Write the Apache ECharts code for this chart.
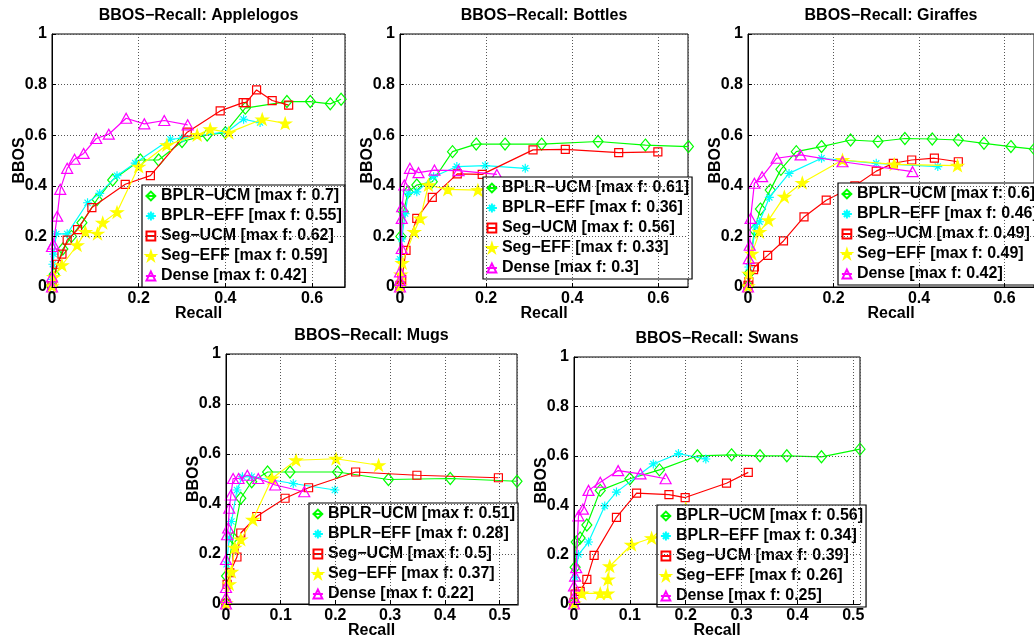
<!DOCTYPE html>
<html>
<head>
<meta charset="utf-8">
<script src="https://cdn.jsdelivr.net/npm/echarts@6.0.0/dist/echarts.min.js"></script>
<style>
  html, body { margin: 0; padding: 0; background: #fff; }
  #chart { width: 1034px; height: 640px; }
</style>
</head>
<body>
<div id="chart"></div>
<script>
// method names, in plotting order
const methods = ['BPLR−UCM', 'BPLR−EFF', 'Seg−UCM', 'Seg−EFF', 'Dense'];
const classes = ['Applelogos', 'Bottles', 'Giraffes', 'Mugs', 'Swans'];

// max f per class, same order as methods
const appleMaxF = [0.7, 0.55, 0.62, 0.59, 0.42];
const bottleMaxF = [0.61, 0.36, 0.56, 0.33, 0.3];
const giraffeMaxF = [0.6, 0.46, 0.49, 0.49, 0.42];
const mugMaxF = [0.51, 0.28, 0.5, 0.37, 0.22];
const swanMaxF = [0.56, 0.34, 0.39, 0.26, 0.25];

// [recall, bbos] points
const appleBplrUcm = [[0,0],[0.005,0.05],[0.025,0.15],[0.045,0.2],[0.069,0.254],[0.104,0.346],[0.14,0.423],[0.204,0.502],[0.246,0.502],[0.3,0.575],[0.358,0.601],[0.4,0.61],[0.446,0.707],[0.542,0.733],[0.596,0.733],[0.642,0.724],[0.667,0.742]];
const appleBplrEff = [[0,0.03],[0.002,0.09],[0.004,0.13],[0.01,0.21],[0.035,0.21],[0.082,0.333],[0.11,0.37],[0.15,0.44],[0.192,0.49],[0.273,0.584],[0.3,0.588],[0.404,0.614],[0.442,0.663],[0.48,0.65]];
const appleSegUcm = [[0,0.006],[0.012,0.09],[0.023,0.13],[0.035,0.185],[0.059,0.227],[0.092,0.314],[0.169,0.406],[0.227,0.44],[0.312,0.612],[0.388,0.696],[0.441,0.729],[0.448,0.729],[0.472,0.779],[0.508,0.737],[0.546,0.719]];
const appleSegEff = [[0,0.003],[0.004,0.04],[0.023,0.086],[0.058,0.165],[0.077,0.218],[0.105,0.211],[0.117,0.254],[0.15,0.296],[0.2,0.476],[0.265,0.561],[0.335,0.601],[0.365,0.624],[0.408,0.61],[0.485,0.663],[0.538,0.647]];
const appleDense = [[0,0],[0,0.04],[0,0.16],[0.003,0.17],[0.012,0.28],[0.019,0.386],[0.035,0.469],[0.052,0.505],[0.073,0.528],[0.102,0.587],[0.131,0.604],[0.171,0.667],[0.213,0.645],[0.259,0.658],[0.313,0.641]];

const bottleBplrUcm = [[0,0.003],[0.002,0.2],[0.008,0.297],[0.019,0.376],[0.039,0.403],[0.075,0.416],[0.122,0.535],[0.177,0.565],[0.244,0.565],[0.329,0.565],[0.46,0.575],[0.57,0.561],[0.67,0.555]];
const bottleBplrEff = [[0,0.11],[0.004,0.19],[0.012,0.29],[0.019,0.37],[0.039,0.376],[0.078,0.436],[0.132,0.476],[0.198,0.48],[0.291,0.469]];
const bottleSegUcm = [[0,0.007],[0.004,0.03],[0.014,0.145],[0.039,0.271],[0.075,0.354],[0.133,0.447],[0.191,0.445],[0.309,0.542],[0.384,0.544],[0.508,0.531],[0.599,0.534]];
const bottleSegEff = [[0,0.003],[0.002,0.05],[0.005,0.095],[0.033,0.218],[0.047,0.271],[0.066,0.403],[0.111,0.386],[0.181,0.383],[0.283,0.403]];
const bottleDense = [[0,0],[0,0.026],[0,0.06],[0.004,0.152],[0.004,0.271],[0.005,0.317],[0.01,0.403],[0.023,0.469],[0.043,0.452],[0.08,0.462],[0.136,0.46],[0.225,0.445]];

const giraffeBplrUcm = [[0,0.003],[0.002,0.053],[0.015,0.225],[0.029,0.308],[0.052,0.383],[0.077,0.465],[0.113,0.535],[0.172,0.555],[0.24,0.581],[0.304,0.575],[0.367,0.587],[0.431,0.585],[0.492,0.581],[0.552,0.568],[0.615,0.555],[0.67,0.545]];
const giraffeBplrEff = [[0.002,0.079],[0.018,0.238],[0.027,0.258],[0.05,0.354],[0.096,0.449],[0.172,0.509],[0.3,0.489],[0.444,0.476]];
const giraffeSegUcm = [[0,0.007],[0.002,0.02],[0.013,0.069],[0.015,0.079],[0.046,0.125],[0.083,0.182],[0.131,0.277],[0.183,0.343],[0.25,0.4],[0.3,0.458],[0.34,0.489],[0.383,0.502],[0.436,0.509],[0.492,0.495]];
const giraffeSegEff = [[0,0.003],[0.002,0.053],[0.009,0.132],[0.027,0.218],[0.048,0.264],[0.085,0.357],[0.127,0.412],[0.221,0.502],[0.342,0.485],[0.49,0.48]];
const giraffeDense = [[0,0],[0.002,0.112],[0.004,0.165],[0.006,0.271],[0.015,0.41],[0.033,0.436],[0.067,0.509],[0.123,0.522],[0.221,0.495],[0.385,0.456]];

const mugBplrUcm = [[0,0.003],[0.001,0.112],[0.013,0.264],[0.027,0.423],[0.047,0.489],[0.076,0.528],[0.117,0.528],[0.204,0.528],[0.297,0.498],[0.41,0.502],[0.532,0.491]];
const mugBplrEff = [[0.001,0.159],[0.006,0.264],[0.01,0.33],[0.02,0.456],[0.03,0.509],[0.047,0.509],[0.123,0.482],[0.199,0.456]];
const mugSegUcm = [[0,0.003],[0.002,0.079],[0.007,0.125],[0.02,0.188],[0.027,0.284],[0.056,0.35],[0.108,0.423],[0.151,0.465],[0.237,0.528],[0.349,0.515],[0.498,0.505]];
const mugSegEff = [[0,0.003],[0.006,0.079],[0.01,0.129],[0.016,0.225],[0.027,0.258],[0.049,0.337],[0.084,0.502],[0.128,0.575],[0.201,0.581],[0.279,0.555]];
const mugDense = [[0,0],[0,0.026],[0,0.066],[0,0.178],[0.002,0.277],[0.004,0.304],[0.006,0.383],[0.009,0.436],[0.013,0.502],[0.023,0.502],[0.039,0.515],[0.059,0.502],[0.09,0.476],[0.143,0.449]];

const swanBplrUcm = [[0,0.003],[0.002,0.149],[0.004,0.251],[0.011,0.267],[0.023,0.32],[0.047,0.46],[0.1,0.507],[0.153,0.543],[0.221,0.6],[0.282,0.604],[0.333,0.6],[0.381,0.6],[0.443,0.596],[0.512,0.627]];
const swanBplrEff = [[0.002,0.107],[0.008,0.2],[0.026,0.251],[0.055,0.397],[0.076,0.453],[0.142,0.567],[0.187,0.609],[0.236,0.587]];
const swanSegUcm = [[0,0.007],[0.002,0.04],[0.011,0.051],[0.023,0.1],[0.036,0.197],[0.076,0.351],[0.112,0.449],[0.17,0.443],[0.199,0.431],[0.273,0.489],[0.312,0.533]];
const swanSegEff = [[0,0.003],[0.014,0.043],[0.047,0.043],[0.06,0.043],[0.061,0.1],[0.064,0.153],[0.103,0.24],[0.139,0.267],[0.2,0.387]];
const swanDense = [[0,0],[0,0.027],[0,0.073],[0.002,0.113],[0.004,0.147],[0.008,0.357],[0.016,0.384],[0.026,0.46],[0.047,0.493],[0.079,0.54],[0.119,0.527],[0.164,0.507]];

const classData = [
  [appleBplrUcm, appleBplrEff, appleSegUcm, appleSegEff, appleDense],
  [bottleBplrUcm, bottleBplrEff, bottleSegUcm, bottleSegEff, bottleDense],
  [giraffeBplrUcm, giraffeBplrEff, giraffeSegUcm, giraffeSegEff, giraffeDense],
  [mugBplrUcm, mugBplrEff, mugSegUcm, mugSegEff, mugDense],
  [swanBplrUcm, swanBplrEff, swanSegUcm, swanSegEff, swanDense]
];
const classMaxF = [appleMaxF, bottleMaxF, giraffeMaxF, mugMaxF, swanMaxF];

// ---- layout / styles ----
const FONT = '"Liberation Sans", Arial, Helvetica, sans-serif';
const panels = [
  { left: 52,  top: 34,  width: 293, height: 253, xmax: 0.676, step: 0.2, lg: [142, 185] },
  { left: 400, top: 34,  width: 288, height: 253, xmax: 0.669, step: 0.2, lg: [483, 177] },
  { left: 748, top: 34,  width: 290, height: 253, xmax: 0.669, step: 0.2, lg: [838, 183] },
  { left: 226, top: 354, width: 291, height: 253, xmax: 0.532, step: 0.1, lg: [309, 503] },
  { left: 574, top: 357, width: 286, height: 250, xmax: 0.512, step: 0.1, lg: [657, 505] }
];

const ASTERISK = 'path://M5,0L5,10M0,5L10,5M1.6,1.6L8.4,8.4M1.6,8.4L8.4,1.6';
const STAR = 'path://M5,0L6.12,3.45L9.76,3.45L6.82,5.59L7.94,9.05L5,6.91L2.06,9.05L3.18,5.59L0.24,3.45L3.88,3.45Z';
const styles = [
  { color: '#00ff00', symbol: 'diamond', size: [10, 12], fill: 'none' },
  { color: '#00ffff', symbol: ASTERISK, size: 9, fill: 'none' },
  { color: '#ff0000', symbol: 'rect', size: 8, fill: 'none' },
  { color: '#ffff00', symbol: STAR, size: [12, 11], fill: '#ffff00' },
  { color: '#ff00ff', symbol: 'triangle', size: [11, 10], fill: 'none' }
];

const grid = [], xAxis = [], yAxis = [], title = [], legend = [], series = [];

panels.forEach((p, i) => {
  grid.push({
    left: p.left, top: p.top, width: p.width, height: p.height,
    show: true, borderColor: '#000', borderWidth: 1, backgroundColor: 'transparent'
  });
  const axisText = { color: '#000', fontWeight: 'bold', fontSize: 16, fontFamily: FONT };
  const dotted = { show: true, lineStyle: { color: '#555', type: [1, 2], width: 1 } };
  xAxis.push({
    gridIndex: i, type: 'value', min: 0, max: p.xmax, interval: p.step, z: 12,
    name: 'Recall', nameLocation: 'middle', nameGap: 19, nameMoveOverlap: false,
    nameTextStyle: axisText,
    axisLine: { lineStyle: { color: '#000' } },
    axisTick: { inside: true, length: 4, lineStyle: { color: '#000' } },
    axisLabel: Object.assign({
      margin: 4, showMaxLabel: false,
      formatter: v => {
        const k = Math.round(v / p.step);
        if (Math.abs(v - k * p.step) > 1e-6) return '';
        return v === 0 ? '0' : String(+v.toFixed(1));
      }
    }, axisText),
    splitLine: dotted
  });
  yAxis.push({
    gridIndex: i, type: 'value', min: 0, max: 1, interval: 0.2, z: 12,
    name: 'BBOS', nameLocation: 'middle', nameGap: 24, nameMoveOverlap: false,
    nameTextStyle: axisText,
    axisLine: { lineStyle: { color: '#000' } },
    axisTick: { inside: true, length: 4, lineStyle: { color: '#000' } },
    axisLabel: Object.assign({ margin: 5 }, axisText),
    splitLine: dotted
  });
  title.push({
    text: 'BBOS−Recall: ' + classes[i],
    left: p.left + p.width / 2 - (i === 2 ? 2 : 0), top: p.top - 26, textAlign: 'center', padding: 0,
    textStyle: { fontSize: 16, fontWeight: 'bold', fontFamily: FONT, color: '#000' }
  });
  const names = methods.map((m, j) => m + ' [max f: ' + classMaxF[i][j] + ']');
  legend.push({
    left: p.lg[0], top: p.lg[1], orient: 'vertical', data: names,
    backgroundColor: '#fff', borderColor: '#000', borderWidth: 1.2,
    padding: [3, 3, 3, 2], itemGap: 4, itemWidth: 10, itemHeight: 11,
    selectedMode: false, z: 10,
    textStyle: { fontSize: 16, fontWeight: 'bold', fontFamily: FONT, color: '#000', lineHeight: 16 }
  });
  classData[i].forEach((pts, j) => {
    const s = styles[j];
    series.push({
      name: names[j], type: 'line', xAxisIndex: i, yAxisIndex: i,
      data: pts, clip: false, z: 2 + j * 0.1,
      symbol: s.symbol, symbolSize: s.size, showAllSymbol: true,
      lineStyle: { color: s.color, width: 1.2 },
      itemStyle: { color: s.fill, borderColor: s.color, borderWidth: 1.2 },
      emphasis: { disabled: true }
    });
  });
});

const chart = echarts.init(document.getElementById('chart'));
chart.setOption({
  animation: false,
  backgroundColor: '#fff',
  grid, xAxis, yAxis, title, legend, series
});
</script>
</body>
</html>
